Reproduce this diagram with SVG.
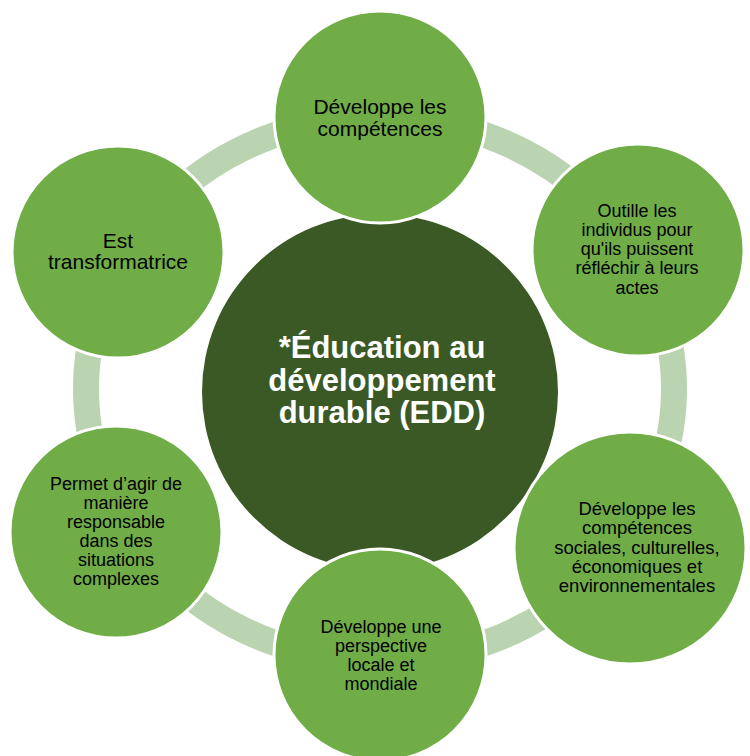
<svg xmlns="http://www.w3.org/2000/svg" width="750" height="756" viewBox="0 0 750 756">
<style>
.ring{fill:none;stroke:#BAD3B1;stroke-width:26}
.center{fill:#3B5925}
.node{fill:#70AD47;stroke:#FFFFFF;stroke-width:3}
.t{font-family:"Liberation Sans",Arial,sans-serif;fill:#000000;text-anchor:middle}
.ct{font-family:"Liberation Sans",Arial,sans-serif;font-weight:bold;fill:#FFFFFF;text-anchor:middle;font-size:31px}
</style>
<rect width="750" height="756" fill="#FFFFFF"/>
<g id="connectors">
<ellipse class="ring" cx="380" cy="389" rx="294" ry="272"/>
</g>
<g id="center">
<circle class="center" cx="380" cy="392" r="178"/>
<text class="ct" x="382" y="358">*Éducation au</text>
<text class="ct" x="382" y="391">développement</text>
<text class="ct" x="382" y="423">durable (EDD)</text>
</g>
<g id="n1">
<circle class="node" cx="380" cy="117" r="106"/>
<text class="t" font-size="21" x="380" y="114">Développe les</text>
<text class="t" font-size="21" x="380" y="136">compétences</text>
</g>
<g id="n2">
<circle class="node" cx="638" cy="250" r="106"/>
<text class="t" font-size="18" x="637" y="217">Outille les</text>
<text class="t" font-size="18" x="637" y="236">individus pour</text>
<text class="t" font-size="18" x="637" y="255">qu'ils puissent</text>
<text class="t" font-size="18" x="637" y="274">réfléchir à leurs</text>
<text class="t" font-size="18" x="637" y="294">actes</text>
</g>
<g id="n3">
<circle class="node" cx="630" cy="548" r="116"/>
<text class="t" font-size="18.5" x="637" y="515">Développe les</text>
<text class="t" font-size="18.5" x="637" y="534">compétences</text>
<text class="t" font-size="18.5" x="637" y="554">sociales, culturelles,</text>
<text class="t" font-size="18.5" x="637" y="573">économiques et</text>
<text class="t" font-size="18.5" x="637" y="592">environnementales</text>
</g>
<g id="n4">
<circle class="node" cx="380" cy="655" r="106"/>
<text class="t" font-size="18" x="381" y="633">Développe une</text>
<text class="t" font-size="18" x="381" y="652">perspective</text>
<text class="t" font-size="18" x="381" y="671">locale et</text>
<text class="t" font-size="18" x="381" y="690">mondiale</text>
</g>
<g id="n5">
<circle class="node" cx="116" cy="532" r="106"/>
<text class="t" font-size="18" x="116" y="490">Permet d’agir de</text>
<text class="t" font-size="18" x="116" y="509">manière</text>
<text class="t" font-size="18" x="116" y="528">responsable</text>
<text class="t" font-size="18" x="116" y="547">dans des</text>
<text class="t" font-size="18" x="116" y="566">situations</text>
<text class="t" font-size="18" x="116" y="585">complexes</text>
</g>
<g id="n6">
<circle class="node" cx="118" cy="252" r="106"/>
<text class="t" font-size="21" x="118" y="248">Est</text>
<text class="t" font-size="21" x="118" y="269">transformatrice</text>
</g>
</svg>
